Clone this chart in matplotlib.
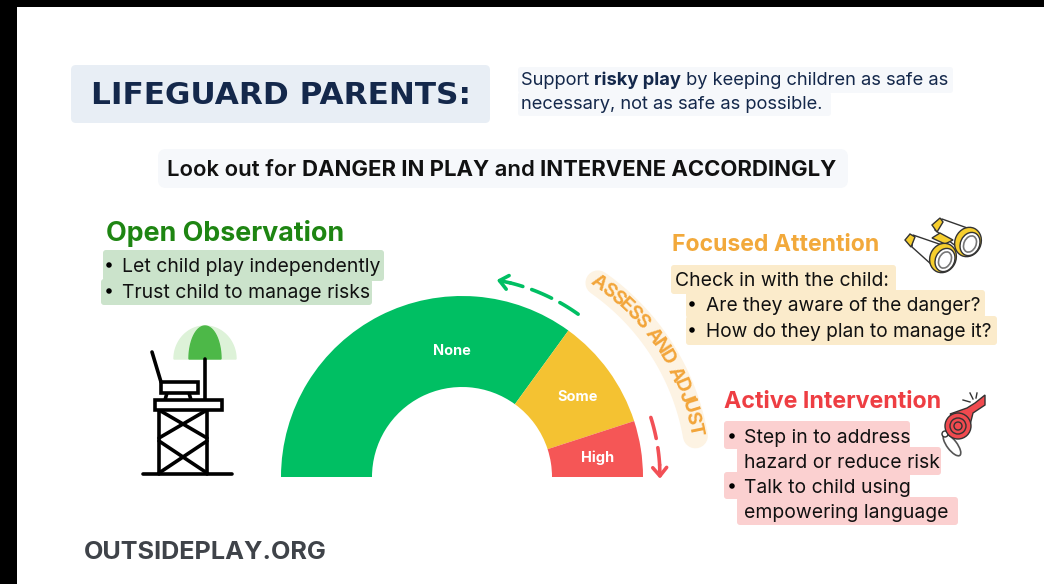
import numpy as np
import matplotlib
matplotlib.use("Agg")
import matplotlib.pyplot as plt
from matplotlib.patches import Wedge, Rectangle, FancyBboxPatch, Ellipse, Polygon, Circle
from matplotlib.textpath import TextPath
from matplotlib.font_manager import FontProperties

plt.rcParams['font.family'] = ['Inter', 'DejaVu Sans']

# gauge shares (half circle)
levels = ["None", "Some", "High"]
shares = [70, 20, 10]
level_colors = ["#00BF63", "#F4C232", "#F55656"]
level_label_xy = [(452, 351), (578, 397), (598, 458)]

NAVY = "#14284B"
INK = "#111111"

title_text = "LIFEGUARD PARENTS:"
sub_lines = [[("Support ", "normal"), ("risky play", "bold"), (" by keeping children as safe as", "normal")],
             [("necessary, not as safe as possible.", "normal")]]
mid_text = [("Look out for ", "semibold"), ("DANGER IN PLAY", "bold"), (" and ", "semibold"), ("INTERVENE ACCORDINGLY", "bold")]
open_items = ["Let child play independently", "Trust child to manage risks"]
focus_items = ["Are they aware of the danger?", "How do they plan to manage it?"]
active_items = [["Step in to address", "hazard or reduce risk"], ["Talk to child using", "empowering language"]]

fig = plt.figure(figsize=(10.44, 5.84), dpi=100)
ax = fig.add_axes([0, 0, 1, 1])
ax.set_xlim(0, 1044)
ax.set_ylim(584, 0)
ax.axis("off")


def box(x0, y0, x1, y1, color, r=5, z=1):
    ax.add_patch(FancyBboxPatch((x0 + r, y0 + r), x1 - x0 - 2 * r, y1 - y0 - 2 * r,
                                boxstyle="round,pad=%d,rounding_size=%d" % (r, r), fc=color, ec="none", zorder=z))


def px(size):
    return size * 0.72


def runs(x, y, parts, size, color):
    # text pieces with mixed weights on one baseline
    r = fig.canvas.get_renderer()
    for s, w in parts:
        t = ax.text(x, y, s.replace(" ", "\u00a0"), fontsize=px(size), fontweight=w, color=color, va="baseline", zorder=5)
        x = t.get_window_extent(r).x1


def bullet(x, y, size=5.5):
    ax.add_patch(Circle((x, y), size / 2, fc="black", ec="none", zorder=5))


def dashed_arc(a0, a1, r, color):
    a = np.radians(np.linspace(a0, a1, 60))
    ax.plot(cx + r * np.cos(a), cy - r * np.sin(a), color=color, lw=2.6, dashes=(6, 2.6), dash_capstyle="round", zorder=4)
    e = np.radians(a1)
    d = np.radians(a1 + np.sign(a1 - a0) * 4)
    ax.annotate("", xy=(cx + r * np.cos(d), cy - r * np.sin(d)), xytext=(cx + r * np.cos(e), cy - r * np.sin(e)),
                arrowprops=dict(arrowstyle="->,head_length=0.6,head_width=0.5", color=color, lw=2.6, shrinkA=0, shrinkB=0,
                                capstyle="round", joinstyle="round"), zorder=4)


# frame bars of the screenshot
ax.add_patch(Rectangle((0, 0), 17, 584, fc="black", ec="none", zorder=9))
ax.add_patch(Rectangle((0, 0), 1044, 7, fc="black", ec="none", zorder=9))

# header
box(71, 65, 490, 123, "#E8EEF5", 5)
ax.text(91, 104, title_text, fontsize=px(31.2), fontweight="bold", family=["DejaVu Sans"], color=NAVY, va="baseline", zorder=5)
box(518, 67, 953, 93, "#F6F8FB", 3)
box(518, 92, 831, 116, "#F6F8FB", 3)
runs(521, 85, sub_lines[0], 18.3, NAVY)
runs(521, 109, sub_lines[1], 18.3, NAVY)
box(158, 149, 848, 188, "#F6F8FB", 8)
runs(167, 176, mid_text, 22.1, INK)

# gauge
cx, cy = 462, 477
R_out, R_in = 181, 90
start = 180.0
for name, v, c, (lx, ly) in zip(levels, shares, level_colors, level_label_xy):
    sweep = v / sum(shares) * 180
    ax.add_patch(Wedge((cx, cy), R_out, start, start + sweep, width=R_out - R_in, fc=c, ec="none", zorder=2))
    ax.text(lx, ly, name, color="white", fontsize=px(14.5), fontweight="bold", ha="center", va="center", zorder=5)
    start += sweep

# curved label
a = np.radians(np.linspace(55, 10, 80))
ax.plot(cx + 237 * np.cos(a), cy - 237 * np.sin(a), color="#FDF3E3", lw=18, solid_capstyle="round", zorder=1)
label = "ASSESS AND ADJUST"
fp = FontProperties(family="Inter", weight="bold")
adv = [TextPath((0, 0), ch.replace(" ", "n"), size=19.5, prop=fp).get_extents().width + 0.3 for ch in label]
adv = [w if ch != " " else 6 for w, ch in zip(adv, label)]
s = -np.cumsum([0] + adv[:-1]) - np.array(adv) / 2
ang = 56.5 + np.degrees(s / 237)
for ch, th in zip(label, ang):
    t = np.radians(th)
    ax.text(cx + 237 * np.cos(t), cy - 237 * np.sin(t), ch, rotation=th - 90, rotation_mode="anchor", ha="center", va="center",
            fontsize=px(19.5), fontweight="bold", color="#F2A53A", zorder=5)

dashed_arc(54.5, 76, 200, "#00BF63")
dashed_arc(17.5, 3.5, 198, "#F25056")

# open observation
ax.text(106, 241, "Open Observation", fontsize=px(26.9), fontweight="bold", color="#1E8512", va="baseline", zorder=5)
box(103, 250, 384, 281, "#CBE3CB", 3)
box(101, 279, 372, 305, "#CBE3CB", 3)
for y, s in zip([272, 298], open_items):
    bullet(109, y - 7)
    ax.text(122, y, s, fontsize=px(19.4), color=INK, va="baseline", zorder=5)

# focused attention
ax.text(672, 251, "Focused Attention", fontsize=px(23), fontweight="bold", color="#F2A93B", va="baseline", zorder=5)
box(671, 265, 896, 294, "#FBEBCB", 3)
box(686, 290, 985, 318, "#FBEBCB", 3)
box(686, 316, 997, 345, "#FBEBCB", 3)
ax.text(675, 286, "Check in with the child:", fontsize=px(19.4), color=INK, va="baseline", zorder=5)
for y, s in zip([311, 337], focus_items):
    bullet(692, y - 7)
    ax.text(706, y, s, fontsize=px(19.2), color=INK, va="baseline", zorder=5)

# active intervention
ax.text(724, 408, "Active Intervention", fontsize=px(23.2), fontweight="bold", color="#EE3E43", va="baseline", zorder=5)
box(724, 421, 910, 449, "#FBD0D0", 3)
box(737, 447, 941, 475, "#FBD0D0", 3)
box(724, 472, 910, 499, "#FBD0D0", 3)
box(737, 497, 958, 525, "#FBD0D0", 3)
for ys, lines in zip([(443, 468), (493, 518)], active_items):
    bullet(732, ys[0] - 7)
    for y, s in zip(ys, lines):
        ax.text(744, y, s, fontsize=px(19.4), color=INK, va="baseline", zorder=5)

ax.text(84, 559, "OUTSIDEPLAY.ORG", fontsize=px(25.3), fontweight="bold", color="#3F4349", va="baseline", zorder=5)

# lifeguard tower icon
a = np.radians(np.linspace(0, 180, 60))
ax.fill(205 + 31 * np.cos(a), 359 - 33 * np.sin(a), color="#DDF2D8", zorder=2)
ax.fill(205 + 16 * np.cos(a), 359 - 33 * np.sin(a), color="#4DB848", zorder=3)
lw = 2.6
tower_lines = [([205, 205], [359, 400]), ([152, 161], [352, 382]), ([167, 165], [393, 400]), ([189, 191], [393, 400]),
               ([159, 159], [410, 474]), ([207, 207], [410, 474]), ([159, 207], [410, 438]), ([207, 159], [410, 438]),
               ([159, 207], [441, 473]), ([207, 159], [441, 473]), ([143, 232], [474, 474])]
for xs, ys in tower_lines:
    ax.plot(xs, ys, color="black", lw=lw, solid_capstyle="round", zorder=4)
ax.add_patch(Rectangle((161, 382), 37, 11, fc="white", ec="black", lw=lw, zorder=4))
ax.add_patch(Rectangle((155, 400), 67, 10, fc="white", ec="black", lw=lw, zorder=4))

# binoculars icon
EDGE = "#333333"
YEL = "#F6CE2E"
ax.add_patch(Polygon([(942, 219), (973, 230), (957, 247), (935, 230)], fc="white", ec=EDGE, lw=1, zorder=3))
ax.add_patch(Polygon([(932, 225), (940, 218), (943, 222), (937, 232)], fc=YEL, ec=EDGE, lw=1, zorder=3))
ax.add_patch(Ellipse((968, 242), 26, 30, angle=25, fc=YEL, ec=EDGE, lw=1, zorder=3))
ax.add_patch(Ellipse((970, 244), 19, 24, angle=25, fc="white", ec=EDGE, lw=1, zorder=3))
ax.add_patch(Ellipse((970, 244), 12, 17, angle=25, fc="white", ec="#777777", lw=1.2, zorder=3))
ax.add_patch(Polygon([(932, 238), (940, 233), (953, 240), (945, 244)], fc=YEL, ec=EDGE, lw=1, zorder=4))
ax.add_patch(Polygon([(913, 235), (945, 246), (932, 265), (912, 247)], fc="white", ec=EDGE, lw=1, zorder=5))
ax.add_patch(Polygon([(905, 240), (910, 234), (915, 237), (911, 247)], fc=YEL, ec=EDGE, lw=1, zorder=5))
ax.add_patch(Ellipse((943, 258), 26, 30, angle=25, fc=YEL, ec=EDGE, lw=1, zorder=5))
ax.add_patch(Ellipse((945, 260), 19, 24, angle=25, fc="white", ec=EDGE, lw=1, zorder=5))
ax.add_patch(Ellipse((945, 260), 12, 17, angle=25, fc="white", ec="#777777", lw=1.2, zorder=5))

# whistle icon
ax.add_patch(Ellipse((952, 445), 10, 26, angle=-37, fc="white", ec="#555555", lw=1.2, zorder=3))
ax.add_patch(Circle((945, 434), 3, fc="white", ec="#333333", lw=1, zorder=3))
ax.add_patch(Polygon([(950, 414), (967, 408), (975, 403), (985, 395), (985, 405), (973, 413), (970, 425)],
                     fc="#F04A4F", ec="#333333", lw=1, zorder=4))
ax.add_patch(Circle((958, 426), 13, fc="#F04A4F", ec="#333333", lw=1, zorder=4))
ax.add_patch(Circle((958, 426), 8, fc="none", ec="#333333", lw=1, zorder=5))
ax.add_patch(Circle((958, 426), 4, fc="none", ec="#333333", lw=1, zorder=5))
for xs, ys in [([963, 970], [400, 402]), ([970, 973], [393, 399]), ([977, 976], [393, 398])]:
    ax.plot(xs, ys, color="#333333", lw=1, zorder=4)

fig.savefig("out.png", dpi=100, facecolor="white")
